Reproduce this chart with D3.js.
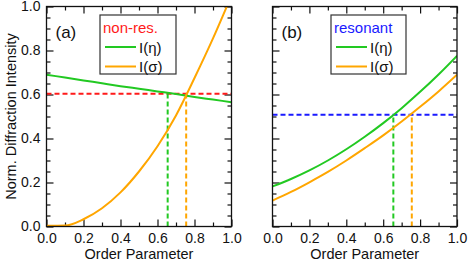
<!DOCTYPE html>
<html>
<head>
<meta charset="utf-8">
<script src="https://cdn.jsdelivr.net/npm/d3@7"></script>
<style>
  body { margin: 0; background: #fff; }
  svg { display: block; font-family: "Liberation Sans", Arial, sans-serif; }
</style>
</head>
<body>
<div class="canvas"></div>
<script>
// values (order parameter 0..1)
const orderParam = [0, 0.1, 0.2, 0.3, 0.4, 0.5, 0.6, 0.7, 0.8, 0.9, 1.0]
const nonResEta = [0.69, 0.677, 0.664, 0.651, 0.638, 0.626, 0.614, 0.602, 0.589, 0.577, 0.565]
const nonResSigma = [0.003, 0.004, 0.033, 0.083, 0.155, 0.25, 0.365, 0.505, 0.675, 0.855, 1.05]
const resEta = [0.182, 0.216, 0.255, 0.300, 0.351, 0.408, 0.470, 0.538, 0.612, 0.691, 0.776]
const resSigma = [0.118, 0.157, 0.201, 0.248, 0.300, 0.356, 0.414, 0.477, 0.544, 0.614, 0.690]

// horizontal level and the order parameters where each curve meets it
const nonResLevel = 0.603
const resLevel = 0.508
const etaCross = 0.655
const sigmaCross = 0.755

const xMajor = [0, 0.2, 0.4, 0.6, 0.8, 1.0]
const xMinor = [0.1, 0.3, 0.5, 0.7, 0.9]
const yMajor = [0, 0.2, 0.4, 0.6, 0.8, 1.0]
const yMinor = [0.05, 0.1, 0.15, 0.25, 0.3, 0.35, 0.45, 0.5, 0.55, 0.65, 0.7, 0.75, 0.85, 0.9, 0.95]

const colours = {eta: '#22c922', sigma: '#ffa600'}

const dims = {width: 469, height: 265, top: 6.5, bottom: 226.5}

const svg = d3.select('.canvas')
    .append('svg')
    .attr('width', dims.width)
    .attr('height', dims.height)

const y = d3.scaleLinear().domain([0, 1]).range([dims.bottom, dims.top])
const fmt = d3.format('.1f')

// y title, shared by both panels
svg.append('text')
    .attr('transform', `translate(16, ${(dims.top + dims.bottom) / 2}) rotate(-90)`)
    .attr('text-anchor', 'middle')
    .attr('font-size', 14.5)
    .attr('fill', '#111')
    .text('Norm. Diffraction Intensity')

const panels = [
    {id: 'a', left: 46.5, right: 231.5, eta: nonResEta, sigma: nonResSigma, level: nonResLevel,
     levelColour: '#ff1a1a', title: 'non-res.', box: {x: 100, w: 76}, yLabels: true},
    {id: 'b', left: 272.5, right: 457, eta: resEta, sigma: resSigma, level: resLevel,
     levelColour: '#1a1aff', title: 'resonant', box: {x: 331, w: 75}, yLabels: false}
]

panels.forEach(p => {
    const x = d3.scaleLinear().domain([0, 1]).range([p.left, p.right])
    const g = svg.append('g')

    g.append('clipPath').attr('id', 'clip-' + p.id)
        .append('rect')
        .attr('x', p.left).attr('y', dims.top)
        .attr('width', p.right - p.left).attr('height', dims.bottom - dims.top)

    //ticks, all pointing inward
    const addAxis = (axis, tx, ty) => {
        const a = g.append('g')
            .attr('transform', `translate(${tx}, ${ty})`)
            .call(axis.tickSizeOuter(0))
        a.select('.domain').remove()
        a.selectAll('line').attr('stroke', '#111').attr('stroke-width', 1.2)
        a.selectAll('text').attr('font-size', 14).attr('fill', '#111').attr('font-family', null)
        return a
    }
    addAxis(d3.axisBottom(x).tickValues(xMajor).tickSize(-7).tickPadding(7).tickFormat(fmt), 0, dims.bottom)
    addAxis(d3.axisBottom(x).tickValues(xMinor).tickSize(-4).tickFormat(''), 0, dims.bottom)
    addAxis(d3.axisTop(x).tickValues(xMajor).tickSize(-7).tickFormat(''), 0, dims.top)
    addAxis(d3.axisTop(x).tickValues(xMinor).tickSize(-4).tickFormat(''), 0, dims.top)
    addAxis(d3.axisLeft(y).tickValues(yMajor).tickSize(-7).tickPadding(6)
        .tickFormat(p.yLabels ? fmt : ''), p.left, 0)
    addAxis(d3.axisLeft(y).tickValues(yMinor).tickSize(-4).tickFormat(''), p.left, 0)
    addAxis(d3.axisRight(y).tickValues(yMajor).tickSize(-7).tickFormat(''), p.right, 0)
    addAxis(d3.axisRight(y).tickValues(yMinor).tickSize(-4).tickFormat(''), p.right, 0)

    g.append('text')
        .attr('x', (p.left + p.right) / 2)
        .attr('y', 259)
        .attr('text-anchor', 'middle')
        .attr('font-size', 14.5)
        .attr('fill', '#111')
        .text('Order Parameter')

    const plot = g.append('g').attr('clip-path', `url(#clip-${p.id})`)

    //dashed guides
    plot.append('line')
        .attr('x1', p.left).attr('x2', p.right)
        .attr('y1', y(p.level)).attr('y2', y(p.level))
        .attr('stroke', p.levelColour)
        .attr('stroke-width', 2)
        .attr('stroke-dasharray', '5,3')
    ;[{v: etaCross, c: colours.eta}, {v: sigmaCross, c: colours.sigma}].forEach(d => {
        plot.append('line')
            .attr('x1', x(d.v)).attr('x2', x(d.v))
            .attr('y1', y(0)).attr('y2', y(p.level))
            .attr('stroke', d.c)
            .attr('stroke-width', 2)
            .attr('stroke-dasharray', '5,3')
    })

    const line = d3.line()
        .x((d, i) => x(orderParam[i]))
        .y(d => y(d))
        .curve(d3.curveMonotoneX)

    plot.append('path').datum(p.eta)
        .attr('d', line)
        .attr('fill', 'none')
        .attr('stroke', colours.eta)
        .attr('stroke-width', 2)
    plot.append('path').datum(p.sigma)
        .attr('d', line)
        .attr('fill', 'none')
        .attr('stroke', colours.sigma)
        .attr('stroke-width', 2)

    //frame
    g.append('rect')
        .attr('x', p.left).attr('y', dims.top)
        .attr('width', p.right - p.left).attr('height', dims.bottom - dims.top)
        .attr('fill', 'none')
        .attr('stroke', '#111')
        .attr('stroke-width', 1.3)

    g.append('text')
        .attr('x', p.left + 9)
        .attr('y', 38)
        .attr('font-size', 17)
        .attr('fill', '#111')
        .text(`(${p.id})`)

    //legend
    const lg = g.append('g').attr('transform', `translate(${p.box.x}, 15)`)
    lg.append('rect')
        .attr('width', p.box.w).attr('height', 59)
        .attr('fill', '#fff')
        .attr('stroke', '#333')
        .attr('stroke-width', 1.2)
    lg.append('text')
        .attr('x', 3).attr('y', 18)
        .attr('font-size', 15)
        .attr('fill', p.levelColour)
        .text(p.title)
    const items = [{label: 'I(η)', c: colours.eta}, {label: 'I(σ)', c: colours.sigma}]
    items.forEach((d, i) => {
        const yy = 32 + i * 19.5
        lg.append('line')
            .attr('x1', 5).attr('x2', 36)
            .attr('y1', yy).attr('y2', yy)
            .attr('stroke', d.c)
            .attr('stroke-width', 2)
        lg.append('text')
            .attr('x', 39).attr('y', yy + 5.5)
            .attr('font-size', 15)
            .attr('fill', '#111')
            .text(d.label)
    })
})
</script>
</body>
</html>
